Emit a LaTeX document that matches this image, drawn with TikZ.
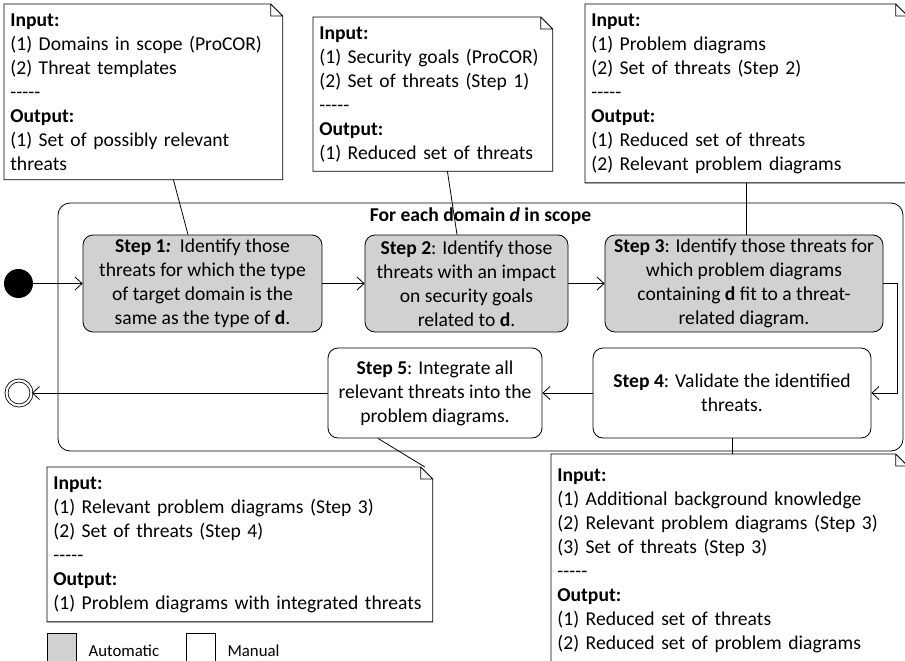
\documentclass[tikz,border=0pt]{standalone}
\usepackage{fontspec}
\setmainfont{Carlito}
\usetikzlibrary{positioning,arrows.meta}

\begin{document}
\begin{tikzpicture}
            [x=1pt,y=-1pt,line width=0.8pt,
            txt/.style={font=\fontsize{19.6}{24}\selectfont},
            act/.style={txt,draw,rounded corners=10pt,align=center,inner sep=0pt},
            autobox/.style={act,fill=black!18},
            note/.style={txt,anchor=north west,align=left,fill=white,inner xsep=6pt,inner ysep=9pt},
            flow/.style={-{Straight Barb[length=7pt,width=13pt]}},
            legend/.style={draw,anchor=north west,inner sep=0pt,minimum width=29pt,minimum height=34pt}]
            \useasboundingbox (0,0) rectangle (905,661);
            % loop frame
            \node[draw,rounded corners=12pt,minimum width=845pt,minimum height=248pt](loop) at (480.5,327) {};
            \node[txt,font=\fontsize{19.6}{24}\selectfont\bfseries,below=1pt of loop.north] {For each domain \textit{d}\ in scope};
            % actions
            \node[circle,fill=black,inner sep=0pt,minimum size=29pt](start) at (18.5,283.5) {};
            \node[circle,draw,double,double distance=2.2pt,inner sep=0pt,minimum size=25pt](end) at (19,393) {};
            \node[autobox,minimum width=239pt,minimum height=97pt](s1) at (202.5,283.5)
              {\textbf{Step 1\textit{:}}\ \ Identify those\\threats for which the type\\of target domain is the\\same as the type of \textbf{d}.};
            \node[autobox,minimum width=203pt,minimum height=97pt](s2) at (466.5,283.5)
              {\textbf{Step 2}: Identify those\\threats with an impact\\on security goals\\related to \textbf{d}.};
            \node[autobox,minimum width=278pt,minimum height=97pt](s3) at (744,283.5)
              {\textbf{Step 3}: Identify those threats for\\which problem diagrams\\containing \textbf{d} fit to a threat-\\related diagram.};
            \node[act,minimum width=278pt,minimum height=90pt](s4) at (732,393)
              {\textbf{Step 4}: Validate the identified\\threats.};
            \node[act,minimum width=214pt,minimum height=90pt](s5) at (435,393)
              {\textbf{Step 5}: Integrate all\\relevant threats into the\\problem diagrams.};
            \draw[flow] (start) -- (start -| s1.west);
            \draw[flow] (s1) -- (s2);
            \draw[flow] (s2) -- (s3);
            \draw[flow] (s3.east) -- ++(14,0) |- (s4.east);
            \draw[flow] (s4) -- (s5);
            \draw[flow] (s5) -- (end);
            % notes
            \node[note,text width=266pt](n1) at (4,4)
              {\textbf{Input:}\\(1) Domains in scope (ProCOR)\\(2) Threat templates\\-{}-{}-{}-{}-\\\textbf{Output:}\\(1) Set of possibly relevant\\threats};
            \node[note,text width=227pt](n2) at (313,17)
              {\textbf{Input:}\\(1) Security goals (ProCOR)\\(2) Set of threats (Step 1)\\-{}-{}-{}-{}-\\\textbf{Output:}\\(1) Reduced set of threats};
            \node[note,text width=310pt](n3) at (585,4)
              {\textbf{Input:}\\(1) Problem diagrams\\(2) Set of threats (Step 2)\\-{}-{}-{}-{}-\\\textbf{Output:}\\(1) Reduced set of threats\\(2) Relevant problem diagrams};
            \node[note,text width=373pt](n4) at (47,467)
              {\textbf{Input:}\\(1) Relevant problem diagrams (Step 3)\\(2) Set of threats (Step 4)\\-{}-{}-{}-{}-\\\textbf{Output:}\\(1) Problem diagrams with integrated threats};
            \node[note,text width=344pt,minimum height=212pt](n5) at (551,454)
              {\textbf{Input:}\\(1) Additional background knowledge\\(2) Relevant problem diagrams (Step 3)\\(3) Set of threats (Step 3)\\-{}-{}-{}-{}-\\\textbf{Output:}\\(1) Reduced set of threats\\(2) Reduced set of problem diagrams};
            \foreach \n in {n1,n2,n3,n4,n5}
              \draw (\n.north west) -- ([xshift=-12pt]\n.north east) -- ([yshift=-12pt]\n.north east)
                -- (\n.south east) -- (\n.south west) -- cycle
                ([xshift=-12pt]\n.north east) |- ([yshift=-12pt]\n.north east);
            \draw ([xshift=30pt]n1.south) -- ([xshift=-14.5pt]s1.north);
            \draw ([xshift=14.5pt]n2.south) -- ([xshift=-9.5pt]s2.north);
            \draw (n3.south) -- (n3.south |- s3.north);
            \draw (s4.south) -- (s4.south |- n5.north);
            \draw ([xshift=-57pt]s5.south) -- ([xshift=-8pt]n4.north east);
            % legend
            \node[legend,fill=black!18](lgauto) at (47,633) {};
            \node[font=\fontsize{16.8}{20}\selectfont,right=8pt of lgauto] {Automatic};
            \node[legend](lgman) at (186,633) {};
            \node[font=\fontsize{16.8}{20}\selectfont,right=8pt of lgman] {Manual};
        \end{tikzpicture}
\end{document}
